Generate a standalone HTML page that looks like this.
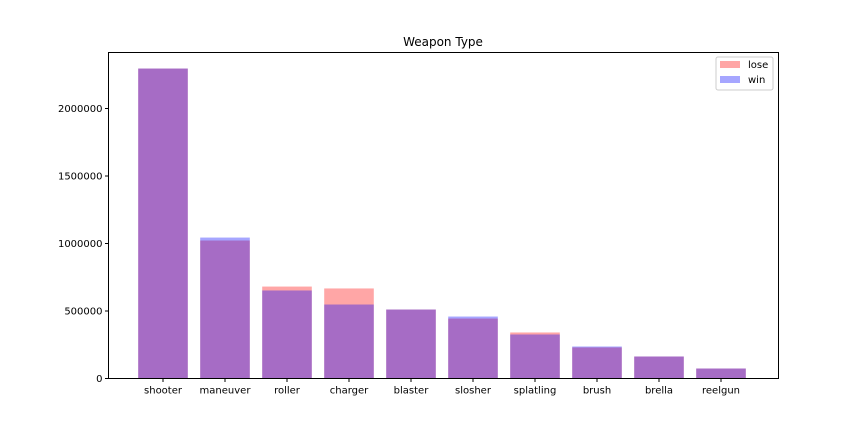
<!DOCTYPE html>
<html><head><meta charset="utf-8"><style>
body{margin:0;background:#fff;font-family:"Liberation Sans","DejaVu Sans",sans-serif;}
</style></head><body>
<svg id="chart" width="864" height="432" xmlns="http://www.w3.org/2000/svg" font-family="'DejaVu Sans','Liberation Sans',sans-serif">
<rect width="864" height="432" fill="#fff"/>
<text x="443" y="46" font-size="12" text-anchor="middle">Weapon Type</text>
<g id="bars"></g>
<g id="axes"></g>
<rect x="108.5" y="52.5" width="670" height="326" fill="none" stroke="#000" stroke-width="1"/>
<g>
<rect x="716" y="57" width="57" height="33" fill="#fff" stroke="#ccc" rx="2"/>
<rect x="720" y="61" width="20" height="7" fill="#f00" fill-opacity="0.35"/>
<text x="748" y="68" font-size="10">lose</text>
<rect x="720" y="76" width="20" height="7" fill="#00f" fill-opacity="0.35"/>
<text x="748" y="83" font-size="10">win</text>
</g>
</svg>
<script>
const categories=["shooter","maneuver","roller","charger","blaster","slosher","splatling","brush","brella","reelgun"];
const loseValues=[2296000,1022000,681000,667000,511000,444000,341000,230000,163000,74000];
const winValues=[2296000,1044000,652000,548000,511000,459000,326000,237000,163000,74000];
const yTicks=[0,500000,1000000,1500000,2000000];
const yTickLabels=["0","500000","1000000","1500000","2000000"];
const NS="http://www.w3.org/2000/svg";
const L=108.5,R=778.5,T=52.5,B=378.5;
const n=categories.length, step=62, x0=163;
function xc(i){return x0+i*step;}
function y(v){return B-v/500000*67.5;}
const bw=step*0.8;
const bars=document.getElementById('bars'), axes=document.getElementById('axes');
function mk(tag,attrs,parent){const e=document.createElementNS(NS,tag);for(const k in attrs)e.setAttribute(k,attrs[k]);parent.appendChild(e);return e;}
[[loseValues,'#f00','lose'],[winValues,'#00f','win']].forEach(([vals,col,nm])=>{
 vals.forEach((v,i)=>{
  const r=mk('rect',{x:xc(i)-bw/2,y:y(v),width:bw,height:B-y(v),fill:col,'fill-opacity':0.35},bars);
  
  
 });
});
categories.forEach((c,i)=>{
 const t=mk('line',{x1:xc(i),x2:xc(i),y1:B,y2:B+3.5,stroke:'#000'},axes);
 
 
 const tx=mk('text',{x:xc(i),y:B+15,'font-size':10,'text-anchor':'middle'},axes);
 tx.textContent=c;
 
 
});
yTicks.forEach((v,i)=>{
 const t=mk('line',{x1:L-3.5,x2:L,y1:y(v),y2:y(v),stroke:'#000'},axes);
 
 
 const tx=mk('text',{x:L-6,y:y(v)+3.5,'font-size':10,'text-anchor':'end'},axes);
 tx.textContent=yTickLabels[i];
 
 
});
</script>
</body></html>
